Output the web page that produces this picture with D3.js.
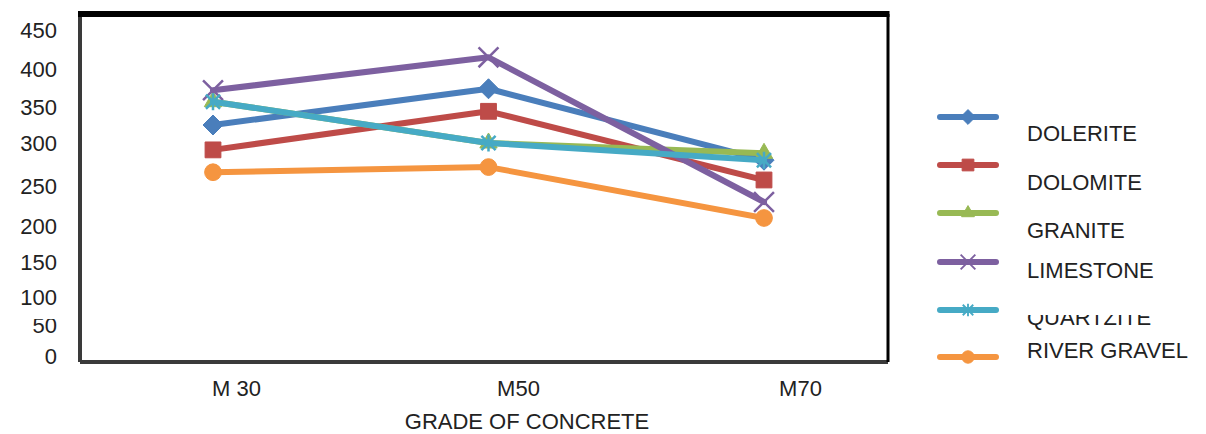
<!DOCTYPE html>
<html>
<head>
<meta charset="utf-8">
<script src="https://cdn.jsdelivr.net/npm/d3@7"></script>
<style>
  body { margin: 0; background: #fff; }
  text { font-family: "Liberation Sans", Arial, sans-serif; fill: #222; }
</style>
</head>
<body>
<svg id="chart"></svg>
<script>
// Chart dimensions
const width = 1206;
const height = 434;

// DATA
const grades = ["M 30", "M50", "M70"];
const series = ["DOLERITE", "DOLOMITE", "GRANITE", "LIMESTONE", "QUARTZITE", "RIVER GRAVEL"];
const dolerite = [325, 374, 280];
const dolomite = [292, 344, 257];
const granite = [357, 300, 288];
const limestone = [372, 415, 230];
const quartzite = [357, 300, 280];
const riverGravel = [266, 272, 210];
const yTicks = [0, 50, 100, 150, 200, 250, 300, 350, 400, 450];
const xTitle = "GRADE OF CONCRETE";

// Excel style star marker: an X with a vertical bar through it
const symbolStar = {
  draw(context, size) {
    const r = Math.sqrt(size) / 2;
    context.moveTo(-r, -r); context.lineTo(r, r);
    context.moveTo(-r, r); context.lineTo(r, -r);
    context.moveTo(0, -r * 1.2); context.lineTo(0, r * 1.2);
  }
};
// Excel style diamond: a square turned 45 degrees
const symbolRhomb = {
  draw(context, size) {
    const r = Math.sqrt(size / 2);
    context.moveTo(0, -r); context.lineTo(r, 0);
    context.lineTo(0, r); context.lineTo(-r, 0);
    context.closePath();
  }
};

const values = [dolerite, dolomite, granite, limestone, quartzite, riverGravel];
const colors = ["#4a7ebb", "#be4b48", "#98b954", "#7d60a0", "#46aac5", "#f59540"];
const symbols = [symbolRhomb, d3.symbolSquare, d3.symbolTriangle, d3.symbolX, symbolStar, d3.symbolCircle];
const strokeSymbol = [false, false, false, true, true, false];
const symbolSize = [200, 250, 130, 260, 200, 220];

const svg = d3.select("#chart").attr("width", width).attr("height", height);

// plot box
const box = { left: 80, right: 888, top: 14, bottom: 362 };

// SCALES (the scanned axis is uneven, so the y scale follows the printed labels)
const yScale = d3.scaleLinear()
  .domain(yTicks)
  .range([356, 325, 297, 262, 226, 186, 143, 107, 69, 30]);

const xScale = d3.scalePoint().domain(grades).range([213, 764]);
const xLabelScale = d3.scalePoint().domain(grades).range([236, 800]);

// frame
svg.append("line").attr("x1", box.left).attr("x2", box.left).attr("y1", box.top).attr("y2", box.bottom)
  .attr("stroke", "#3a3a3a").attr("stroke-width", 4);
svg.append("line").attr("x1", box.left).attr("x2", box.right).attr("y1", box.bottom).attr("y2", box.bottom)
  .attr("stroke", "#3a3a3a").attr("stroke-width", 4);
svg.append("line").attr("x1", box.right).attr("x2", box.right).attr("y1", box.top).attr("y2", box.bottom)
  .attr("stroke", "#000").attr("stroke-width", 3);
svg.append("line").attr("x1", box.left - 2).attr("x2", box.right + 1.5).attr("y1", box.top).attr("y2", box.top)
  .attr("stroke", "#000").attr("stroke-width", 6);

// clip paths imitating the cut-off glyphs of the scan
const defs = svg.append("defs");
defs.append("clipPath").attr("id", "clip50")
  .append("rect").attr("x", -80).attr("y", -6.5).attr("width", 90).attr("height", 30);
defs.append("clipPath").attr("id", "clipQ")
  .append("rect").attr("x", 1000).attr("y", 315).attr("width", 206).attr("height", 30);

// Y axis
const yAxis = d3.axisLeft(yScale).tickValues(yTicks).tickSize(0).tickPadding(0).tickFormat(d3.format("d"));
const gy = svg.append("g").attr("transform", "translate(57,0)").call(yAxis);
gy.select(".domain").remove();
gy.selectAll("text").style("font-size", "22px").style("font-family", null).attr("fill", "#222")
  .attr("clip-path", (d) => (d === 50 ? "url(#clip50)" : null));

// X axis
const xAxis = d3.axisBottom(xLabelScale).tickSize(0).tickPadding(0);
const gx = svg.append("g").attr("transform", "translate(0,380)").call(xAxis);
gx.select(".domain").remove();
gx.selectAll("text").style("font-size", "22px").style("font-family", null).attr("fill", "#222");

svg.append("text")
  .attr("x", 527).attr("y", 429)
  .attr("text-anchor", "middle")
  .style("font-size", "22px")
  .text(xTitle);

// LINES + MARKERS
const line = d3.line().x((d, i) => xScale(grades[i])).y((d) => yScale(d));

function drawMarker(g, k, x, y, scale) {
  const sym = d3.symbol().type(symbols[k]).size(symbolSize[k] * scale);
  const p = g.append("path").attr("d", sym()).attr("transform", `translate(${x},${y})`);
  if (strokeSymbol[k]) {
    p.attr("fill", "none").attr("stroke", colors[k]).attr("stroke-width", 2.5 * Math.sqrt(scale));
  } else {
    p.attr("fill", colors[k]).attr("stroke", colors[k]).attr("stroke-width", 1);
  }
}

values.forEach((vals, k) => {
  const g = svg.append("g");
  g.append("path")
    .attr("d", line(vals))
    .attr("fill", "none")
    .attr("stroke", colors[k])
    .attr("stroke-width", 6)
    .attr("stroke-linejoin", "round")
    .attr("stroke-linecap", "round");
  vals.forEach((v, i) => drawMarker(g, k, xScale(grades[i]), yScale(v), 1));
});

// LEGEND
const legendLineY = [117, 165, 213, 262, 310, 357];
const legendTextY = [133, 182, 230, 270, 317, 350];
const legend = svg.append("g");
series.forEach((name, k) => {
  legend.append("line")
    .attr("x1", 940).attr("x2", 996)
    .attr("y1", legendLineY[k]).attr("y2", legendLineY[k])
    .attr("stroke", colors[k]).attr("stroke-width", 6).attr("stroke-linecap", "round");
  drawMarker(legend, k, 968, legendLineY[k], 0.55);
  legend.append("text")
    .attr("x", 1027).attr("y", legendTextY[k])
    .attr("dy", "0.36em")
    .style("font-size", "22px")
    .attr("clip-path", name === "QUARTZITE" ? "url(#clipQ)" : null)
    .text(name);
});
</script>
</body>
</html>
